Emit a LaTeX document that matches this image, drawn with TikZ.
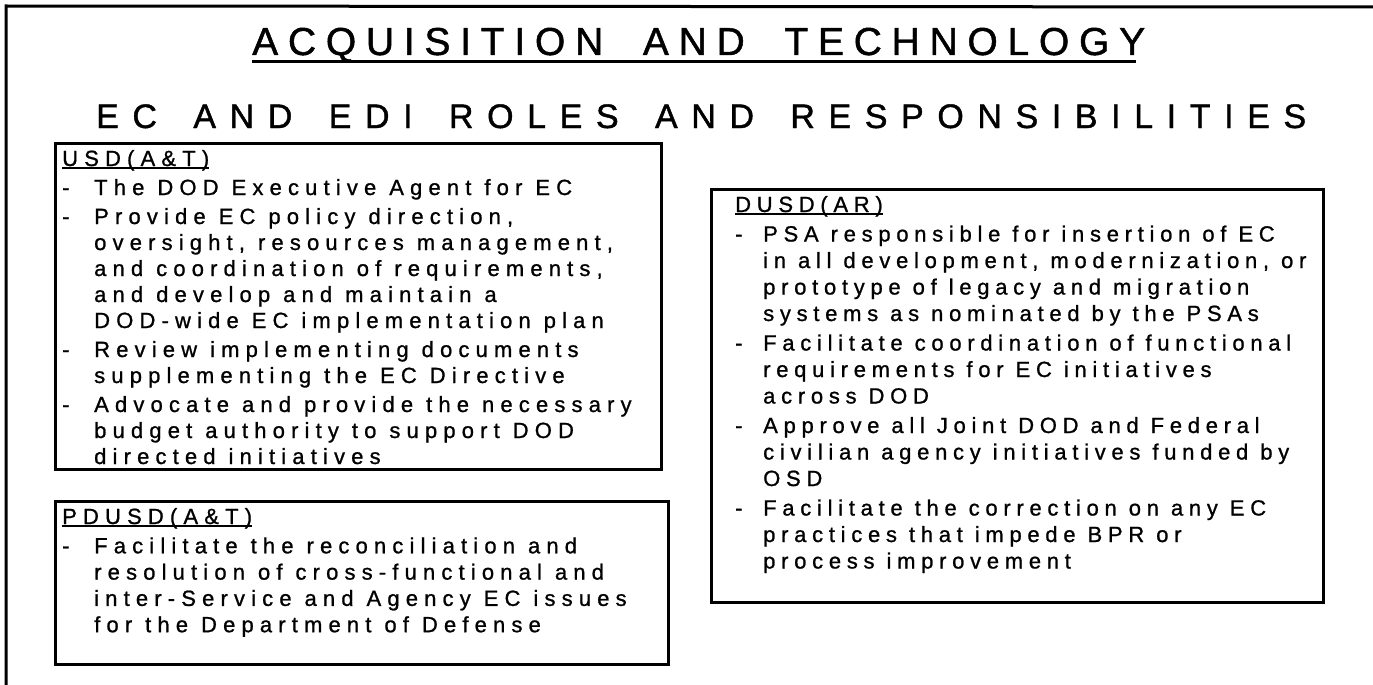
\documentclass[tikz,border=0pt]{standalone}
\usepackage{fontspec}
\setmainfont{Liberation Sans}
\newfontfamily\titlefont[LetterSpace=25,FakeBold=1.2]{Liberation Sans}
\newfontfamily\headfont[LetterSpace=40,FakeBold=1.2]{Liberation Sans}
\newfontfamily\bodyfont[LetterSpace=28,FakeBold=1]{Liberation Sans}
\newfontfamily\rightfont[LetterSpace=26,FakeBold=1]{Liberation Sans}
\usepackage{tikz}
\usetikzlibrary{positioning}

\newlength{\dashind}
\newcommand{\dashitem}{\\[3pt]\makebox[\dashind][l]{-}}
\newcommand{\contline}{\\\hspace*{\dashind}}
\newcommand{\boxlabel}[1]{\setbox0\hbox{#1}\rlap{\rule[-3pt]{\wd0}{2pt}}\box0}

\begin{document}
\begin{tikzpicture}[x=1pt,y=-1pt]
	\useasboundingbox (0,0) rectangle (1373,685);
	% frame
	\draw[line width=3pt] (1373,7) -- (6,6) -- (6,685);
	% headings
	\node[anchor=base west,inner sep=0pt,font=\titlefont\fontsize{39}{41}\selectfont] (ttl) at (252,55) {\makebox[893pt][s]{ACQUISITION AND TECHNOLOGY}};
	\draw[line width=3pt] ([yshift=-7pt]ttl.base west) -- ([yshift=-7pt,xshift=-9pt]ttl.base east);
	\node[anchor=base west,inner sep=0pt,font=\headfont\fontsize{34}{36}\selectfont] (sub) at (96,128) {\makebox[1210pt][s]{EC AND EDI ROLES AND RESPONSIBILITIES}};
	% boxes
	\begin{scope}[every node/.style={draw,line width=2.5pt,anchor=north west,inner sep=0pt}]
		\node[minimum width=606pt,minimum height=326pt] (usd) at (54,142) {};
		\node[minimum width=613pt,minimum height=163pt] (pdusd) at (54,500) {};
		\node[minimum width=612pt,minimum height=413pt] (dusd) at (710,188) {};
	\end{scope}
	% texts
	\begin{scope}[every node/.style={anchor=base west,inner sep=0pt,text width=600pt,align=left}]
		\node[font=\bodyfont\fontsize{22}{26}\selectfont] (usdtxt) at ([xshift=8pt,yshift=-24pt]usd.north west) {\spaceskip=13pt plus 1pt\setlength{\dashind}{32pt}%
			\boxlabel{USD(A\&T)}
			\dashitem The DOD Executive Agent for EC
			\dashitem Provide EC policy direction,
			\contline oversight, resources management,
			\contline and coordination of requirements,
			\contline and develop and maintain a
			\contline DOD-wide EC implementation plan
			\dashitem Review implementing documents
			\contline supplementing the EC Directive
			\dashitem Advocate and provide the necessary
			\contline budget authority to support DOD
			\contline directed initiatives};
		\node[font=\bodyfont\fontsize{22}{26.3}\selectfont] (pdusdtxt) at ([xshift=8pt,yshift=-24pt]pdusd.north west) {\spaceskip=13pt plus 1pt\setlength{\dashind}{32pt}%
			\boxlabel{PDUSD(A\&T)}
			\dashitem Facilitate the reconciliation and
			\contline resolution of cross-functional and
			\contline inter-Service and Agency EC issues
			\contline for the Department of Defense};
		\node[font=\rightfont\fontsize{22}{26.5}\selectfont] (dusdtxt) at ([xshift=25pt,yshift=-24pt]dusd.north west) {\spaceskip=12pt plus 1pt\setlength{\dashind}{28pt}%
			\boxlabel{DUSD(AR)}
			\dashitem PSA responsible for insertion of EC
			\contline in all development, modernization, or
			\contline prototype of legacy and migration
			\contline systems as nominated by the PSAs
			\dashitem Facilitate coordination of functional
			\contline requirements for EC initiatives
			\contline across DOD
			\dashitem Approve all Joint DOD and Federal
			\contline civilian agency initiatives funded by
			\contline OSD
			\dashitem Facilitate the correction on any EC
			\contline practices that impede BPR or
			\contline process improvement};
	\end{scope}
\end{tikzpicture}
\end{document}
